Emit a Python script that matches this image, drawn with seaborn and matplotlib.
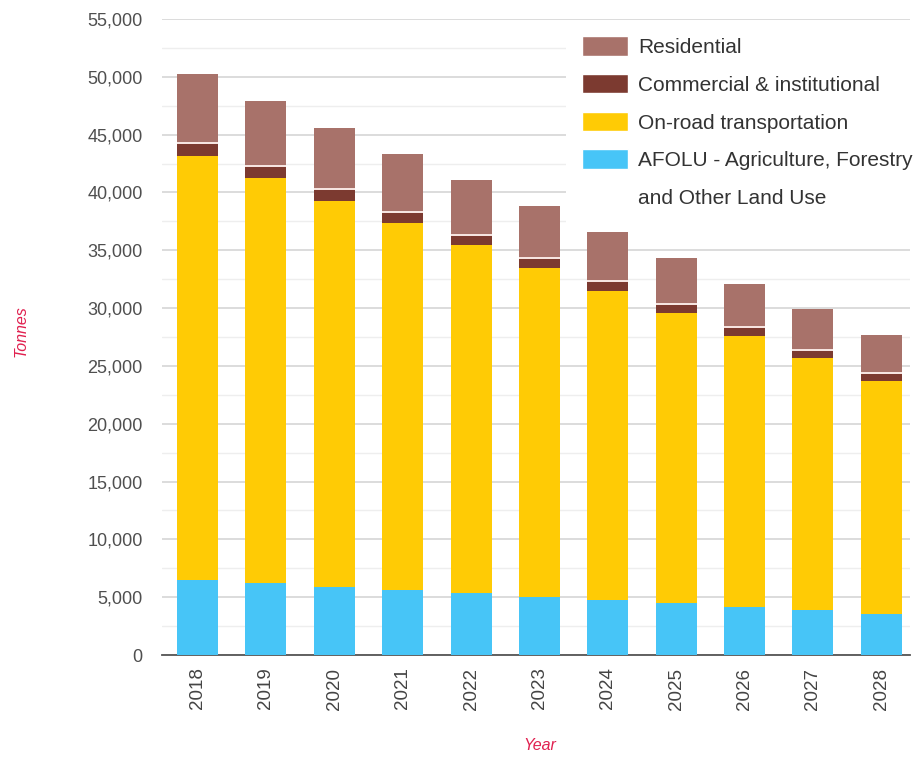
import numpy as np
import pandas as pd
import matplotlib
matplotlib.use('Agg')
import matplotlib.pyplot as plt
from matplotlib.patches import Patch
from matplotlib.ticker import MultipleLocator, StrMethodFormatter
import seaborn as sns

# Emissions by sector, tonnes
years = ['2018', '2019', '2020', '2021', '2022', '2023', '2024', '2025', '2026', '2027', '2028']
afolu = [6490, 6200, 5910, 5620, 5330, 5040, 4760, 4470, 4120, 3890, 3550]
on_road = [36660, 35020, 33350, 31710, 30100, 28450, 26740, 25080, 23470, 21770, 20140]
commercial = [1050, 980, 930, 880, 830, 780, 750, 720, 690, 660, 640]
other = [170, 170, 170, 170, 170, 170, 170, 170, 170, 170, 170]
residential = [5840, 5550, 5250, 4950, 4650, 4400, 4120, 3850, 3620, 3400, 3150]

legend_labels = ['Residential', 'Commercial & institutional', 'On-road transportation',
                 'AFOLU - Agriculture, Forestry', 'and Other Land Use']

c_res = '#a8726a'
c_com = '#7c3a30'
c_other = '#f6e4e0'
c_road = '#ffcb05'
c_afolu = '#47c5f7'

df = pd.DataFrame({'Year': years, 'afolu': afolu, 'on_road': on_road,
                   'commercial': commercial, 'other': other, 'residential': residential})
# cumulative heights, drawn from the top down so each layer covers the one above
df['c1'] = df['afolu']
df['c2'] = df['c1'] + df['on_road']
df['c3'] = df['c2'] + df['commercial']
df['c4'] = df['c3'] + df['other']
df['c5'] = df['c4'] + df['residential']

sns.set_style('white')
plt.rcParams['font.family'] = ['Liberation Sans', 'DejaVu Sans']

fig = plt.figure(figsize=(9.23, 7.58), dpi=100)
ax = fig.add_axes([162 / 923, 1 - 655 / 758, 748 / 923, 636 / 758])

for col, colr in [('c5', c_res), ('c4', c_other), ('c3', c_com), ('c2', c_road), ('c1', c_afolu)]:
    sns.barplot(data=df, x='Year', y=col, order=years, color=colr, width=0.6,
                saturation=1, linewidth=0, ax=ax, zorder=3)

ax.set_ylim(0, 55000)
ax.set_xlim(-0.52, 10.42)
ax.yaxis.set_major_locator(MultipleLocator(5000))
ax.yaxis.set_minor_locator(MultipleLocator(2500))
ax.yaxis.set_major_formatter(StrMethodFormatter('{x:,.0f}'))
ax.grid(axis='y', which='major', color='#d6d6d6', linewidth=1.2, zorder=0)
ax.grid(axis='y', which='minor', color='#eeeeee', linewidth=1.0, zorder=0)
ax.grid(axis='x', visible=False)
ax.set_axisbelow(True)

for s in ['top', 'right', 'left']:
    ax.spines[s].set_visible(False)
ax.spines['bottom'].set_color('#555555')
ax.spines['bottom'].set_linewidth(1.3)

ax.tick_params(axis='y', which='both', length=0, pad=14, labelsize=13, labelcolor='#4f4f4f')
ax.tick_params(axis='x', length=0, pad=9, labelsize=13.5, labelcolor='#444444', rotation=90)

ax.set_ylabel('Tonnes', color='#e0204f', fontsize=11.5, style='italic')
ax.set_xlabel('Year', color='#e0204f', fontsize=11.5, style='italic')
ax.yaxis.set_label_coords(-0.178, 0.51)
ax.xaxis.set_label_coords(0.505, -0.13)

handles = [Patch(facecolor=c_res), Patch(facecolor=c_com), Patch(facecolor=c_road),
           Patch(facecolor=c_afolu), Patch(facecolor='none', edgecolor='none')]
leg = ax.legend(handles, legend_labels, loc='upper left',
                bbox_to_anchor=(566 / 923, 1 - 20 / 758), bbox_transform=fig.transFigure,
                frameon=True, facecolor='white', edgecolor='none', framealpha=1,
                fancybox=False, borderpad=0.77, handlelength=2.2, handleheight=1.06,
                handletextpad=0.48, labelspacing=0.815, borderaxespad=0,
                prop={'size': 15})
for t in leg.get_texts():
    t.set_color('#333333')
leg.set_zorder(5)

fig.savefig('out.png', dpi=100, facecolor='white')
